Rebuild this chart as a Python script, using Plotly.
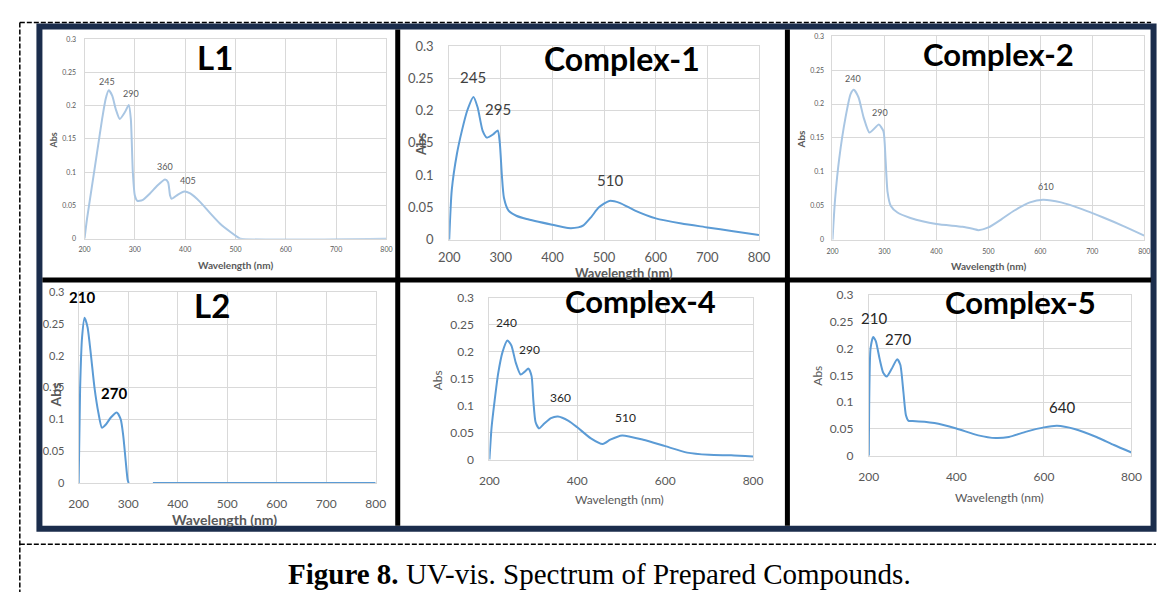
import plotly.graph_objects as go

W, H = 1168, 600

# ---------------- data ----------------
L1_wl  = [200, 205, 215, 225, 235, 242, 248, 255, 262, 270, 280, 288, 292, 296, 300, 305, 315, 330, 345, 360, 366, 370, 373, 385, 398, 410, 430, 450, 470, 490, 505, 510, 800]
L1_abs = [0, 0.03, 0.08, 0.13, 0.18, 0.21, 0.223, 0.215, 0.195, 0.18, 0.19, 0.201, 0.18, 0.1, 0.065, 0.057, 0.058, 0.068, 0.08, 0.089, 0.085, 0.065, 0.06, 0.066, 0.071, 0.068, 0.055, 0.038, 0.022, 0.01, 0.002, 0, 0]

C1_wl  = [200, 205, 215, 225, 235, 247, 255, 265, 273, 285, 294, 298, 302, 306, 315, 330, 350, 400, 430, 450, 460, 475, 490, 510, 530, 560, 600, 650, 700, 750, 800]
C1_abs = [0, 0.077, 0.133, 0.17, 0.2, 0.221, 0.205, 0.168, 0.158, 0.163, 0.169, 0.15, 0.1, 0.065, 0.045, 0.037, 0.032, 0.023, 0.018, 0.019, 0.022, 0.035, 0.05, 0.06, 0.057, 0.045, 0.033, 0.025, 0.019, 0.013, 0.007]

C2_wl  = [200, 205, 213, 225, 235, 241, 250, 260, 271, 282, 289, 298, 302, 306, 312, 325, 350, 400, 450, 470, 481, 500, 525, 550, 580, 605, 640, 680, 720, 760, 800]
C2_abs = [0, 0.06, 0.12, 0.18, 0.215, 0.221, 0.21, 0.18, 0.158, 0.165, 0.17, 0.16, 0.12, 0.07, 0.05, 0.04, 0.032, 0.023, 0.019, 0.016, 0.014, 0.018, 0.03, 0.043, 0.055, 0.059, 0.055, 0.045, 0.033, 0.02, 0.006]

L2_wl  = [200, 203, 207, 212, 218, 225, 232, 240, 247, 255, 265, 277, 285, 290, 295, 299, 301, 320, 350, 800]
L2_abs = [0, 0.15, 0.23, 0.26, 0.245, 0.2, 0.15, 0.11, 0.087, 0.092, 0.103, 0.111, 0.1, 0.075, 0.035, 0.005, 0, None, 0, 0]

C4_wl  = [200, 205, 212, 220, 230, 241, 250, 260, 271, 280, 289, 296, 300, 305, 313, 325, 340, 356, 380, 400, 430, 458, 475, 502, 550, 600, 650, 700, 750, 800]
C4_abs = [0, 0.06, 0.11, 0.16, 0.2, 0.221, 0.212, 0.18, 0.158, 0.163, 0.169, 0.155, 0.11, 0.07, 0.058, 0.067, 0.077, 0.08, 0.072, 0.06, 0.04, 0.029, 0.037, 0.045, 0.037, 0.025, 0.013, 0.009, 0.008, 0.006]

C5_wl  = [200, 201, 204, 210, 216, 225, 233, 241, 252, 265, 272, 279, 285, 291, 300, 350, 400, 450, 490, 520, 560, 600, 630, 670, 720, 760, 800]
C5_abs = [0, 0.1, 0.2, 0.222, 0.214, 0.18, 0.155, 0.148, 0.162, 0.18, 0.17, 0.12, 0.075, 0.065, 0.065, 0.061, 0.051, 0.038, 0.033, 0.035, 0.045, 0.053, 0.056, 0.05, 0.035, 0.02, 0.006]

# peak labels (text, wavelength, absorbance where printed)
L1_peaks = [("245", 245, 0.237), ("290", 292, 0.218), ("360", 360, 0.108), ("405", 405, 0.088)]
C1_peaks = [("245", 246, 0.252), ("295", 295, 0.202), ("510", 511, 0.092)]
C2_peaks = [("240", 240, 0.237), ("290", 291, 0.188), ("610", 611, 0.079)]
L2_peaks = [("210", 206, 0.292), ("270", 271, 0.142)]
C4_peaks = [("240", 240, 0.255), ("290", 291, 0.204), ("360", 361, 0.116), ("510", 510, 0.078)]
C5_peaks = [("210", 211, 0.258), ("270", 267, 0.218), ("640", 641, 0.091)]

panel_names = ["L1", "Complex-1", "Complex-2", "L2", "Complex-4", "Complex-5"]
y_ticks = [0, 0.05, 0.1, 0.15, 0.2, 0.25, 0.3]
y_tick_text = ["0", "0.05", "0.1", "0.15", "0.2", "0.25", "0.3"]
x_ticks_100 = [200, 300, 400, 500, 600, 700, 800]
x_ticks_200 = [200, 400, 600, 800]
x_title = "Wavelength (nm)"
y_title = "Abs"
caption_bold = "Figure 8."
caption_rest = " UV-vis. Spectrum of Prepared Compounds."

# ---------------- layout helpers ----------------
def px(x):
    return x / W

def py(y):
    return 1 - y / H

FONT = "Lato"
GRID = "#d9d9d9"
TICK = "#595959"

panels = [
    dict(wl=L1_wl, ab=L1_abs, peaks=L1_peaks, box=(75, 32, 383, 237), col="#a9c6e3", tf=7, ytf=7, xt=x_ticks_100,
         ys=6, xs=4, lab=(208, 50), ls=33, xtp=(229, 264), xts=10, xtb=True, ytp=(43, 136), yts=9, ytb=True,
         ps=9, pb=False, pc="#595959"),
    dict(wl=C1_wl, ab=C1_abs, peaks=C1_peaks, box=(447, 39, 763, 238), col="#5b9bd5", tf=13, ytf=13, xt=x_ticks_100,
         ys=12, xs=6, lab=(623, 52), ls=32, xtp=(625, 272), xts=13, xtb=True, ytp=(419, 140), yts=13, ytb=True,
         ps=15, pb=False, pc="#404040"),
    dict(wl=C2_wl, ab=C2_abs, peaks=C2_peaks, box=(838, 29, 1156, 238), col="#a9c6e3", tf=7, ytf=7, xt=x_ticks_100,
         ys=6, xs=5, lab=(1007, 47), ls=31, xtp=(997, 265), xts=10, xtb=True, ytp=(806, 135), yts=10, ytb=True,
         ps=9, pb=False, pc="#595959"),
    dict(wl=L2_wl, ab=L2_abs, peaks=L2_peaks, box=(69, 292, 372, 488), col="#5b9bd5", tf=12, ytf=11, xt=x_ticks_100,
         ys=11, xs=10, lab=(205, 305), ls=33, xtp=(218, 525), xts=14, xtb=True, ytp=(45, 398), yts=14, ytb=True,
         ps=15, pb=True, pc="#000000"),
    dict(wl=C4_wl, ab=C4_abs, peaks=C4_peaks, box=(488, 298, 757, 464), col="#5b9bd5", tf=12, ytf=12, xt=x_ticks_200,
         ys=12, xs=10, lab=(642, 301), ls=31, xtp=(621, 505), xts=12, xtb=False, ytp=(435, 382), yts=12, ytb=False,
         ps=12, pb=False, pc="#262626"),
    dict(wl=C5_wl, ab=C5_abs, peaks=C5_peaks, box=(875, 295, 1143, 460), col="#5b9bd5", tf=12, ytf=12, xt=x_ticks_200,
         ys=12, xs=10, lab=(1030, 302), ls=31, xtp=(1008, 503), xts=12, xtb=False, ytp=(823, 378), yts=12, ytb=False,
         ps=15, pb=False, pc="#262626"),
]

fig = go.Figure()
annotations = []
layout_axes = {}

for i, (p, name) in enumerate(zip(panels, panel_names), start=1):
    xa = "x" if i == 1 else f"x{i}"
    ya = "y" if i == 1 else f"y{i}"
    fig.add_trace(go.Scatter(x=p["wl"], y=p["ab"], mode="lines", xaxis=xa, yaxis=ya,
                             line=dict(color=p["col"], width=2, shape="spline", smoothing=0.6),
                             connectgaps=False, showlegend=False, hoverinfo="skip"))
    x0, y0, x1, y1 = p["box"]
    xkey = "xaxis" if i == 1 else f"xaxis{i}"
    ykey = "yaxis" if i == 1 else f"yaxis{i}"
    layout_axes[xkey] = dict(domain=[px(x0), px(x1)], anchor=ya, range=[200, 800], tickvals=p["xt"],
                             ticktext=[str(v) for v in p["xt"]], showgrid=True, gridcolor=GRID, gridwidth=1,
                             zeroline=False, showline=True, linecolor=GRID, linewidth=1, mirror=True,
                             ticks="", ticklabelstandoff=p["xs"],
                             tickfont=dict(family=FONT, size=p["tf"], color=TICK), fixedrange=True)
    layout_axes[ykey] = dict(domain=[py(y1), py(y0)], anchor=xa, range=[0, 0.3], tickvals=y_ticks,
                             ticktext=y_tick_text, showgrid=True, gridcolor=GRID, gridwidth=1,
                             zeroline=False, showline=True, linecolor=GRID, linewidth=1, mirror=True,
                             ticks="", ticklabelstandoff=p["ys"],
                             tickfont=dict(family=FONT, size=p["ytf"], color=TICK), fixedrange=True)
    for txt, xv, yv in p["peaks"]:
        annotations.append(dict(x=xv, y=yv, xref=xa, yref=ya, text=(f"<b>{txt}</b>" if p["pb"] else txt),
                                showarrow=False, font=dict(family=FONT, size=p["ps"], color=p["pc"]),
                                xanchor="center", yanchor="middle"))
    annotations.append(dict(x=px(p["lab"][0]), y=py(p["lab"][1]), xref="paper", yref="paper",
                            text=f"<b>{name}</b>", showarrow=False,
                            font=dict(family=FONT, size=p["ls"], color="#000000"),
                            xanchor="center", yanchor="middle"))
    tx = f"<b>{x_title}</b>" if p["xtb"] else x_title
    ty = f"<b>{y_title}</b>" if p["ytb"] else y_title
    annotations.append(dict(x=px(p["xtp"][0]), y=py(p["xtp"][1]), xref="paper", yref="paper", text=tx,
                            showarrow=False, font=dict(family=FONT, size=p["xts"], color=TICK),
                            xanchor="center", yanchor="middle"))
    annotations.append(dict(x=px(p["ytp"][0]), y=py(p["ytp"][1]), xref="paper", yref="paper", text=ty,
                            showarrow=False, textangle=-90, font=dict(family=FONT, size=p["yts"], color=TICK),
                            xanchor="center", yanchor="middle"))

# caption
annotations.append(dict(x=px(600), y=py(581), xref="paper", yref="paper",
                        text=f"<b>{caption_bold}</b>{caption_rest}", showarrow=False,
                        font=dict(family="Liberation Serif", size=29, color="#000000"),
                        xanchor="center", yanchor="middle"))

NAVY = "#1b2d4c"
DASH = dict(color="black", width=1.5, dash="5px,2px")
shapes = [
    dict(type="line", xref="paper", yref="paper", x0=px(9), x1=px(9), y0=py(15), y1=py(600), line=DASH),
    dict(type="line", xref="paper", yref="paper", x0=px(9), x1=px(1163), y0=py(15), y1=py(15), line=DASH),
    dict(type="line", xref="paper", yref="paper", x0=px(9), x1=px(1168), y0=py(551), y1=py(551), line=DASH),
    dict(type="rect", xref="paper", yref="paper", x0=px(29), x1=px(1165.5), y0=py(535), y1=py(19),
         line=dict(color=NAVY, width=6), fillcolor="rgba(0,0,0,0)"),
    dict(type="line", xref="paper", yref="paper", x0=px(394.5), x1=px(394.5), y0=py(22), y1=py(532),
         line=dict(color="black", width=5)),
    dict(type="line", xref="paper", yref="paper", x0=px(792), x1=px(792), y0=py(22), y1=py(532),
         line=dict(color="black", width=5)),
    dict(type="line", xref="paper", yref="paper", x0=px(32), x1=px(1163), y0=py(279.5), y1=py(279.5),
         line=dict(color="black", width=5)),
]

fig.update_layout(width=W, height=H, margin=dict(l=0, r=0, t=0, b=0), paper_bgcolor="white",
                  plot_bgcolor="white", annotations=annotations, shapes=shapes, showlegend=False,
                  **layout_axes)

fig.write_html("out.html", config={"displayModeBar": False})
